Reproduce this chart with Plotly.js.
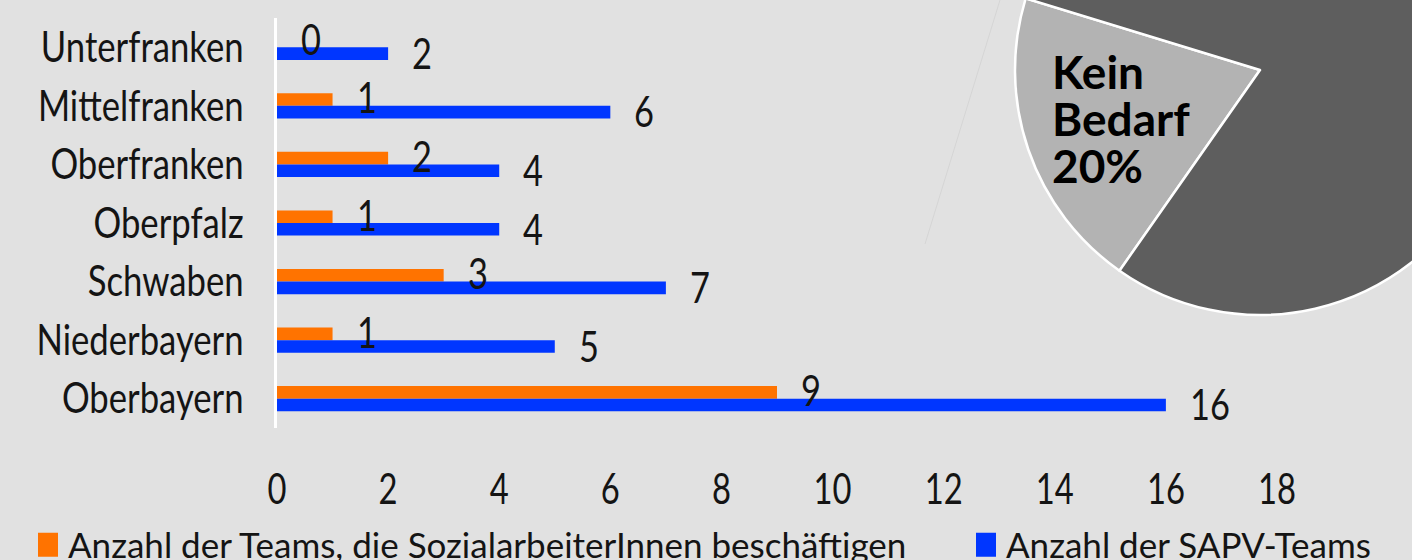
<!DOCTYPE html>
<html>
<head>
<meta charset="utf-8">
<script src="https://cdn.plot.ly/plotly-3.0.1.min.js"></script>
<style>
  html, body { margin: 0; padding: 0; width: 1412px; height: 560px; overflow: hidden; background: #e1e1e1; }
  #chart { position: absolute; left: 0; top: -180px; width: 1510px; height: 760px; }
</style>
</head>
<body>
<div id="chart"></div>
<script>
// Regions of Bavaria, listed top to bottom
const regions = ['Unterfranken', 'Mittelfranken', 'Oberfranken', 'Oberpfalz', 'Schwaben', 'Niederbayern', 'Oberbayern'];
// Teams employing social workers
const teamsSozial = [0, 1, 2, 1, 3, 1, 9];
// All SAPV teams
const teamsSAPV = [2, 6, 4, 4, 7, 5, 16];
const xTickVals = [0, 2, 4, 6, 8, 10, 12, 14, 16, 18];
const seriesNames = ['Anzahl der Teams, die SozialarbeiterInnen beschäftigen', 'Anzahl der SAPV-Teams'];
// Pie: share without need
const pieLabels = ['Kein Bedarf', 'Bedarf'];
const pieValues = [20, 80];

const W = 1510, H = 760, TOP = 180;
const px = x => x / W;                 // page x -> paper x
const py = y => 1 - (y + TOP) / H;     // page y -> paper y

const FONT = 'Lato, "Open Sans", sans-serif';
const ORANGE = '#ff7300';
const BLUE = '#0036ff';
const INK = '#141414';

const traces = [
  {
    type: 'bar', orientation: 'h', name: seriesNames[0],
    x: teamsSozial, y: regions, marker: { color: ORANGE },
    legend: 'legend', hoverinfo: 'x+y'
  },
  {
    type: 'bar', orientation: 'h', name: seriesNames[1],
    x: teamsSAPV, y: regions, marker: { color: BLUE },
    legend: 'legend2', hoverinfo: 'x+y'
  },
  {
    type: 'pie', labels: pieLabels, values: pieValues, sort: false,
    direction: 'clockwise', rotation: 215, textinfo: 'none', showlegend: false,
    marker: { colors: ['#b3b3b3', '#5e5e5e'], line: { color: '#ffffff', width: 2.5 } },
    domain: { x: [px(1015), px(1505)], y: [py(315), py(-175)] },
    hoverinfo: 'label+percent'
  }
];

// value labels next to each bar end
const annotations = [];
regions.forEach((r, i) => {
  annotations.push({
    x: teamsSozial[i], y: r, xref: 'x', yref: 'y', text: String(teamsSozial[i]),
    showarrow: false, xanchor: 'left', yanchor: 'middle', xshift: 22, yshift: 9,
    font: { family: FONT, size: 43, color: INK }
  });
  annotations.push({
    x: teamsSAPV[i], y: r, xref: 'x', yref: 'y', text: String(teamsSAPV[i]),
    showarrow: false, xanchor: 'left', yanchor: 'middle', xshift: 22, yshift: -5,
    font: { family: FONT, size: 43, color: INK }
  });
});
// pie slice label
const PIE_LABEL_INDEX = annotations.length;
annotations.push({
  x: px(1050), y: py(131), xref: 'paper', yref: 'paper', xanchor: 'left', yanchor: 'middle',
  align: 'left', showarrow: false,
  text: '<b>' + pieLabels[0].replace(' ', '<br>') + '<br>' + pieValues[0] + '%</b>',
  font: { family: FONT, size: 46, color: '#000' }
});

const layout = {
  width: W, height: H,
  margin: { l: 0, r: 0, t: 0, b: 0 },
  paper_bgcolor: '#e1e1e1', plot_bgcolor: '#e1e1e1',
  barmode: 'group', bargap: 0.57, bargroupgap: 0,
  font: { family: FONT, size: 42, color: INK },
  xaxis: {
    domain: [px(277), px(1277)], range: [0, 18], tickvals: xTickVals,
    showgrid: false, zeroline: false, showline: false, ticks: '',
    ticklabelstandoff: 33, tickfont: { family: FONT, size: 42, color: INK },
    fixedrange: true
  },
  yaxis: {
    domain: [py(428), py(18)], type: 'category', categoryorder: 'array', categoryarray: regions,
    range: [regions.length - 0.5, -0.5], showgrid: false, zeroline: false,
    showline: true, linecolor: '#ffffff', linewidth: 3, ticks: '',
    ticklabelstandoff: 22, tickfont: { family: FONT, size: 42, color: INK },
    fixedrange: true
  },
  legend: {
    x: px(28), y: py(545), xanchor: 'left', yanchor: 'middle', orientation: 'h',
    bgcolor: 'rgba(0,0,0,0)', font: { family: FONT, size: 35, color: INK }
  },
  legend2: {
    x: px(966), y: py(545), xanchor: 'left', yanchor: 'middle', orientation: 'h',
    bgcolor: 'rgba(0,0,0,0)', font: { family: FONT, size: 35, color: INK }
  },
  shapes: [{
    type: 'line', xref: 'paper', yref: 'paper',
    x0: px(1000), y0: py(0), x1: px(925), y1: py(244),
    line: { color: '#d5d5d5', width: 1 }
  }],
  annotations: annotations
};

// Condense axis and value text horizontally (anchor kept in place),
// tighten the pie label's line spacing and enlarge the legend swatches.
function squeezeText(t, factor, ax) {
  const old = t.getAttribute('transform') || '';
  t.setAttribute('transform', old + ' translate(' + ax + ',0) scale(' + factor + ',1) translate(' + (-ax) + ',0)');
}

function finishText(gd) {
  gd.querySelectorAll('svg text').forEach(t => {
    if (t.dataset.sq) return;
    t.dataset.sq = '1';
    const ann = t.closest('g.annotation');
    if (ann) {
      if (Number(ann.getAttribute('data-index')) === PIE_LABEL_INDEX) {
        t.querySelectorAll('tspan.line').forEach((ts, k) => {
          ts.setAttribute('dy', (k * 1.02) + 'em');
        });
      } else {
        squeezeText(t, 0.8, t.getBBox().x);
      }
      return;
    }
    const ax = parseFloat(t.getAttribute('x')) || 0;
    if (t.closest('.ytick')) squeezeText(t, 0.826, ax);
    else if (t.closest('.xtick')) squeezeText(t, 0.78, ax);
  });
  gd.querySelectorAll('.legendpoints path').forEach(p => {
    p.setAttribute('d', 'M10,12H-10V-12H10Z');
  });
}

Plotly.newPlot('chart', traces, layout, { displayModeBar: false, staticPlot: true })
  .then(gd => finishText(gd));
</script>
</body>
</html>
